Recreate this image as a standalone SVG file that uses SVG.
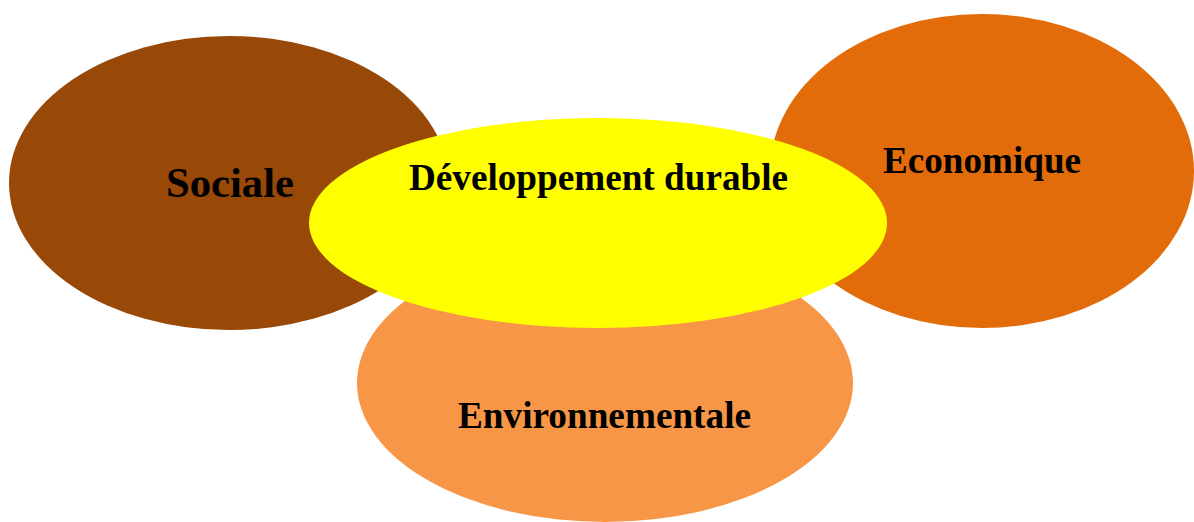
<svg xmlns="http://www.w3.org/2000/svg" width="1194" height="522" viewBox="0 0 1194 522">
<style>
text{font-family:"Liberation Serif","Times New Roman",serif;font-weight:bold;fill:#000}
</style>
<rect width="1194" height="522" fill="#fff"/>
<g id="sociale">
<ellipse cx="229" cy="183" rx="220" ry="147" fill="#984807"/>
<text x="166" y="197" font-size="42" textLength="128" lengthAdjust="spacingAndGlyphs">Sociale</text>
</g>
<g id="economique">
<ellipse cx="982" cy="171" rx="212" ry="157" fill="#E36C0A"/>
<text x="883" y="173" font-size="37" textLength="198" lengthAdjust="spacingAndGlyphs">Economique</text>
</g>
<g id="environnementale">
<ellipse cx="605" cy="383" rx="248" ry="139" fill="#F79646"/>
<text x="458" y="428" font-size="37" textLength="293" lengthAdjust="spacingAndGlyphs">Environnementale</text>
</g>
<g id="developpement">
<ellipse cx="598" cy="223" rx="289" ry="105" fill="#FFFF00"/>
<text x="409" y="190" font-size="37" textLength="379" lengthAdjust="spacingAndGlyphs">Développement durable</text>
</g>
<g id="connectors"/>
</svg>
